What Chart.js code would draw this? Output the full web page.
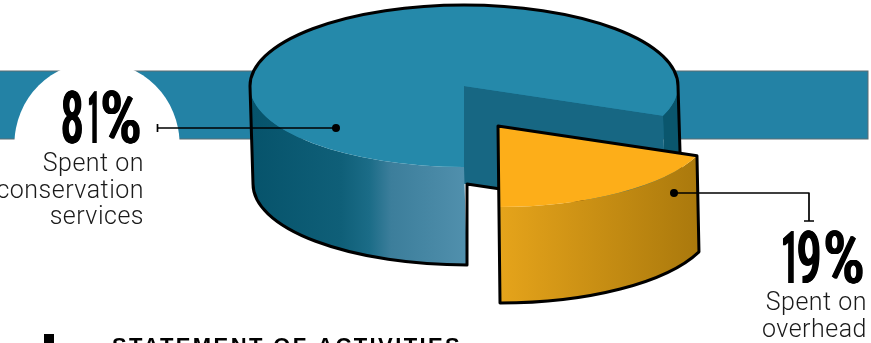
<!DOCTYPE html>
<html>
<head>
<meta charset="utf-8">
<title>Statement of activities</title>
<script src="https://cdn.jsdelivr.net/npm/chart.js@4"></script>
<style>
  html, body { margin: 0; padding: 0; background: #fff; overflow: hidden; }
  canvas { display: block; }
</style>
</head>
<body>
<canvas id="pieChart" width="871" height="343"></canvas>
<script>
const categories = ['Spent on conservation services', 'Spent on overhead'];
const shareValues = [81, 19];
const sliceColors = ['#2589aa', '#fdae19'];
const percentLabels = ['81%', '19%'];
const conservationLines = ['Spent on', 'conservation', 'services'];
const overheadLines = ['Spent on', 'overhead'];
const footerTitle = 'STATEMENT OF ACTIVITIES';

// where the flattened pie sits on the page
const RX = 214, RY = 81;
const MAIN = { x: 464, y: 86, depth: 98, skew: 3 };
const SLICE = { x: 498, y: 126, depth: 96, skew: 2 };
const INK = '#000';

function drawTop(ctx, arc, place) {
    const R = arc.outerRadius;
    ctx.save();
    ctx.translate(place.x, place.y);
    ctx.scale(RX / R, RY / R);
    ctx.translate(-arc.x, -arc.y);
    arc.draw(ctx);
    ctx.restore();
}

function edgePoint(place, angle, down) {
    return {
        x: place.x + RX * Math.cos(angle) + (down ? place.skew : 0),
        y: place.y + RY * Math.sin(angle) + (down ? place.depth : 0)
    };
}

// outer side of the cylinder between two angles, a > b
function sidePath(ctx, place, a, b) {
    ctx.beginPath();
    ctx.ellipse(place.x, place.y, RX, RY, 0, b, a);
    ctx.ellipse(place.x + place.skew, place.y + place.depth, RX, RY, 0, a, b, true);
    ctx.closePath();
}

function sideGradient(ctx, x0, x1, stops) {
    const g = ctx.createLinearGradient(x0, 0, x1, 0);
    stops.forEach(s => g.addColorStop(s[0], s[1]));
    return g;
}

function drawMain(ctx, arc) {
    const cut = arc.endAngle - Math.PI * 2;
    const far = edgePoint(MAIN, cut, false);
    const farLow = edgePoint(MAIN, cut, true);

    // wall of the cut
    ctx.fillStyle = '#176783';
    ctx.beginPath();
    ctx.moveTo(MAIN.x, MAIN.y);
    ctx.lineTo(far.x, far.y);
    ctx.lineTo(farLow.x, farLow.y);
    ctx.lineTo(MAIN.x + MAIN.skew, MAIN.y + MAIN.depth);
    ctx.lineTo(MAIN.x, MAIN.y + MAIN.depth);
    ctx.closePath();
    ctx.fill();

    // sliver of outer side right of the cut
    ctx.fillStyle = '#0a566d';
    sidePath(ctx, MAIN, cut, 0);
    ctx.fill();

    // front left side
    ctx.fillStyle = sideGradient(ctx, 250, 467, [
        [0, '#06536b'], [0.42, '#0f5f78'], [0.55, '#1b6c87'], [0.65, '#3c7e9b'], [1, '#5190ad']
    ]);
    sidePath(ctx, MAIN, Math.PI, Math.PI / 2);
    ctx.fill();

    drawTop(ctx, arc, MAIN);

    ctx.strokeStyle = INK;
    ctx.lineWidth = 3;
    ctx.lineJoin = 'round';
    ctx.beginPath();
    ctx.ellipse(MAIN.x, MAIN.y, RX, RY, 0, Math.PI, Math.PI * 2);
    ctx.lineTo(MAIN.x + RX + MAIN.skew, MAIN.y + MAIN.depth);
    ctx.stroke();

    ctx.beginPath();
    ctx.moveTo(MAIN.x - RX, MAIN.y);
    ctx.ellipse(MAIN.x + MAIN.skew, MAIN.y + MAIN.depth, RX, RY, 0, Math.PI, Math.PI / 2, true);
    ctx.lineTo(MAIN.x + MAIN.skew, MAIN.y + MAIN.depth);
    ctx.lineTo(farLow.x, farLow.y);
    ctx.stroke();
}

function drawSlice(ctx, arc) {
    const start = arc.startAngle - Math.PI * 2 * (arc.startAngle > Math.PI * 2 ? 1 : 0);
    const end = start + (arc.endAngle - arc.startAngle);

    ctx.fillStyle = sideGradient(ctx, SLICE.x, SLICE.x + 204, [[0, '#e6a41b'], [1, '#a9780c']]);
    sidePath(ctx, SLICE, end, start);
    ctx.fill();

    drawTop(ctx, arc, SLICE);

    const a = edgePoint(SLICE, start, false);
    ctx.strokeStyle = INK;
    ctx.lineWidth = 3;
    ctx.lineJoin = 'round';
    ctx.beginPath();
    ctx.moveTo(SLICE.x, SLICE.y);
    ctx.lineTo(a.x, a.y);
    ctx.ellipse(SLICE.x + SLICE.skew, SLICE.y + SLICE.depth, RX, RY, 0, start, end);
    ctx.closePath();
    ctx.stroke();
}

function drawLeaders(ctx) {
    ctx.strokeStyle = INK;
    ctx.fillStyle = INK;
    ctx.lineWidth = 1.7;
    ctx.beginPath();
    ctx.moveTo(157.5, 124); ctx.lineTo(157.5, 132);
    ctx.moveTo(157.5, 128); ctx.lineTo(336, 128);
    ctx.moveTo(674, 193); ctx.lineTo(809, 193); ctx.lineTo(809, 221);
    ctx.moveTo(804, 221); ctx.lineTo(814, 221);
    ctx.stroke();
    ctx.beginPath();
    ctx.arc(336, 128, 4, 0, Math.PI * 2);
    ctx.moveTo(678, 193);
    ctx.arc(674, 193, 4, 0, Math.PI * 2);
    ctx.fill();
}

// tall condensed figure: every character squeezed into its own span, baseline at y.
// the squeeze thins the stems, so the glyph is filled again shifted sideways
function drawPercent(ctx, text, spans, y) {
    ctx.font = '500 73px Roboto';
    ctx.textAlign = 'left';
    ctx.textBaseline = 'alphabetic';
    ctx.fillStyle = INK;
    [...text].forEach((ch, i) => {
        const m = ctx.measureText(ch);
        const left = -m.actualBoundingBoxLeft;
        const w = m.actualBoundingBoxRight - left;
        const thicken = 2;
        const sx = (spans[i][1] - spans[i][0] - thicken) / w;
        ctx.save();
        ctx.translate(spans[i][0], y);
        ctx.scale(sx, 1);
        for (let dx = 0; dx <= thicken; dx += 0.5) {
            ctx.fillText(ch, -left + dx / sx, 0);
        }
        ctx.restore();
    });
}

function drawLines(ctx, lines, right, firstBase) {
    ctx.font = '300 25px Roboto';
    ctx.letterSpacing = '0.5px';
    ctx.textAlign = 'right';
    ctx.textBaseline = 'alphabetic';
    ctx.fillStyle = '#1a1a1a';
    lines.forEach((line, i) => ctx.fillText(line, right, firstBase + i * 26.5));
    ctx.letterSpacing = '0px';
}

const pie3d = {
    id: 'pie3d',
    beforeDraw(chart) {
        const ctx = chart.ctx;
        ctx.save();
        ctx.fillStyle = '#2382a5';
        ctx.fillRect(0, 71, 868, 68);
        ctx.strokeStyle = '#5c6c72';
        ctx.lineWidth = 1;
        ctx.strokeRect(-1, 71, 869, 68);
        // white disc behind the 81% figure
        ctx.fillStyle = '#fff';
        ctx.beginPath();
        ctx.rect(0, 60, 300, 80);
        ctx.clip();
        ctx.beginPath();
        ctx.arc(97, 144, 82.6, 0, Math.PI * 2);
        ctx.fill();
        ctx.restore();
    },
    beforeDatasetDraw(chart) {
        const ctx = chart.ctx;
        const arcs = chart.getDatasetMeta(0).data;
        ctx.save();
        drawMain(ctx, arcs[0]);
        drawSlice(ctx, arcs[1]);
        drawLeaders(ctx);
        ctx.restore();
        return false;
    },
    afterDraw(chart) {
        const ctx = chart.ctx;
        ctx.save();
        drawPercent(ctx, percentLabels[0], [[62, 82], [89, 97], [102, 140]], 143);
        drawPercent(ctx, percentLabels[1], [[783, 794], [798, 820], [825, 863]], 283);
        drawLines(ctx, conservationLines, 144, 171);
        drawLines(ctx, overheadLines, 867, 310);

        ctx.fillStyle = INK;
        ctx.fillRect(44, 334, 10, 9);
        ctx.font = 'bold 22px "Liberation Sans"';
        ctx.textAlign = 'left';
        ctx.letterSpacing = '2.4px';
        ctx.fillText(footerTitle, 112, 353);
        ctx.restore();
    }
};

new Chart(document.getElementById('pieChart'), {
    type: 'pie',
    data: {
        labels: categories,
        datasets: [{
            data: shareValues,
            backgroundColor: sliceColors,
            borderWidth: 0
        }]
    },
    options: {
        responsive: false,
        animation: false,
        rotation: 180,
        plugins: {
            legend: { display: false },
            tooltip: { enabled: false }
        }
    },
    plugins: [pie3d]
});
</script>
</body>
</html>
